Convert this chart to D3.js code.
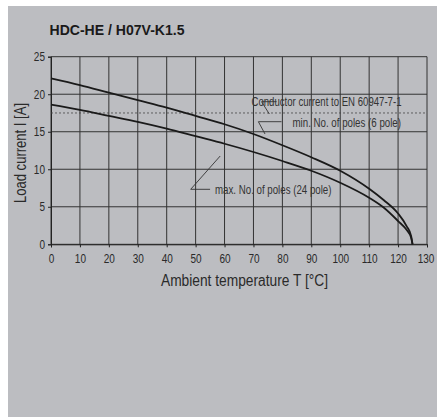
<!DOCTYPE html>
<html><head><meta charset="utf-8">
<script src="https://cdn.jsdelivr.net/npm/d3@7"></script>
<style>
html,body{margin:0;padding:0;background:#fff;}
svg{display:block;}
text{font-family:"Liberation Sans","Arial",sans-serif;}
</style></head>
<body>
<svg id="chart" width="437" height="417"></svg>
<script>
const title = "HDC-HE / H07V-K1.5";
const xLabel = "Ambient temperature T [°C]";
const yLabel = "Load current I [A]";
const xTicks = [0,10,20,30,40,50,60,70,80,90,100,110,120,130];
const yTicks = [0,5,10,15,20,25];
const conductorCurrent = 17.5;
const tempMinPoles = [0,10,20,30,40,50,60,70,80,90,100,110,115,120,123,124.5,125];
const currentMinPoles = [22.1,21.2,20.2,19.2,18.2,17.1,16.0,14.7,13.2,11.6,9.8,7.4,5.9,4.1,2.4,1.1,0];
const tempMaxPoles = [0,10,20,30,40,50,60,70,80,90,100,110,115,120,123,124.5,125];
const currentMaxPoles = [18.6,17.9,17.1,16.3,15.4,14.4,13.4,12.3,11.1,9.8,8.2,6.2,4.9,3.1,1.9,0.9,0];
const labels = ["Conductor current to EN 60947-7-1","min. No. of poles (6 pole)","max. No. of poles (24 pole)"];

const svg = d3.select("#chart");
svg.append("rect").attr("x",8).attr("y",6).attr("width",429).attr("height",411).attr("fill","#bcbdc1");

const x = d3.scaleLinear().domain([0,130]).range([51,427]);
const y = d3.scaleLinear().domain([0,25]).range([244.3,56.7]);

function condense(sel, f){
  sel.each(function(){
    const w = this.getComputedTextLength();
    this.setAttribute("textLength", (w*f).toFixed(2));
    this.setAttribute("lengthAdjust","spacingAndGlyphs");
  });
}

svg.append("text").attr("x",49.5).attr("y",35).attr("font-size",15).attr("font-weight","bold").attr("fill","#1a1a1a")
  .attr("textLength",135).attr("lengthAdjust","spacingAndGlyphs").text(title);

// grid
const g = svg.append("g");
g.selectAll("line.vg").data(xTicks).join("line")
  .attr("x1",d=>x(d)).attr("x2",d=>x(d)).attr("y1",y(0)).attr("y2",y(25))
  .attr("stroke","#333").attr("stroke-width",1);
g.selectAll("line.hg").data(yTicks).join("line")
  .attr("x1",x(0)).attr("x2",x(130)).attr("y1",d=>y(d)).attr("y2",d=>y(d))
  .attr("stroke","#333").attr("stroke-width",1);

// axes
const xAxis = d3.axisBottom(x).tickValues(xTicks).tickSize(3).tickPadding(7);
const yAxis = d3.axisLeft(y).tickValues(yTicks).tickSize(3).tickPadding(3);
const gx = svg.append("g").attr("transform",`translate(0,${y(0)})`).call(xAxis);
const gy = svg.append("g").attr("transform",`translate(${x(0)},0)`).call(yAxis);
[gx,gy].forEach(a=>{
  a.select(".domain").attr("stroke","#222");
  a.selectAll(".tick line").attr("stroke","#222");
  a.selectAll(".tick text").attr("font-size",12.5).attr("fill","#2a2a2a")
   .style("font-family",'"Liberation Sans",Arial,sans-serif');
  condense(a.selectAll(".tick text"), 0.8);
});
gx.selectAll(".tick text").filter(d=>d===130).attr("dx",-1.5);

// dotted conductor current line
svg.append("line").attr("x1",x(0)).attr("x2",x(130)).attr("y1",y(conductorCurrent)).attr("y2",y(conductorCurrent))
  .attr("stroke","#444").attr("stroke-width",0.8).attr("stroke-dasharray","2,2");

// curves
const line = d3.line().x(d=>x(d[0])).y(d=>y(d[1])).curve(d3.curveMonotoneX);
const minData = tempMinPoles.map((t,i)=>[t,currentMinPoles[i]]);
const maxData = tempMaxPoles.map((t,i)=>[t,currentMaxPoles[i]]);
svg.append("path").datum(minData).attr("d",line).attr("fill","none").attr("stroke","#1a1a1a").attr("stroke-width",1.8);
svg.append("path").datum(maxData).attr("d",line).attr("fill","none").attr("stroke","#1a1a1a").attr("stroke-width",1.8);

// annotations
function leader(pts){
  svg.append("path").attr("d",d3.line()(pts)).attr("fill","none").attr("stroke","#333").attr("stroke-width",0.9);
}
leader([[x(78),101.7],[x(72.8),101.7],[x(75.5),114]]);
leader([[x(79.7),121.7],[x(71.7),121.7],[x(74),134]]);
leader([[x(55),189.3],[x(48.3),189.3],[x(58.5),156]]);
const annX = [251.5, 292.5, 215];
const annY = [106, 126.5, 194];
const annW = [150, 108.5, 116.5];
labels.forEach((t,i)=>{
  svg.append("text").attr("x",annX[i]).attr("y",annY[i]).attr("font-size",12).attr("fill","#333")
    .attr("textLength",annW[i]).attr("lengthAdjust","spacingAndGlyphs").text(t);
});

// axis titles
svg.append("text").attr("x",244.5).attr("y",285.5).attr("text-anchor","middle").attr("font-size",16).attr("fill","#2a2a2a")
  .attr("textLength",167).attr("lengthAdjust","spacingAndGlyphs").text(xLabel);
svg.append("text").attr("transform","translate(25.5,153) rotate(-90)").attr("text-anchor","middle").attr("font-size",16).attr("fill","#2a2a2a")
  .attr("textLength",100).attr("lengthAdjust","spacingAndGlyphs").text(yLabel);
</script>
</body></html>
